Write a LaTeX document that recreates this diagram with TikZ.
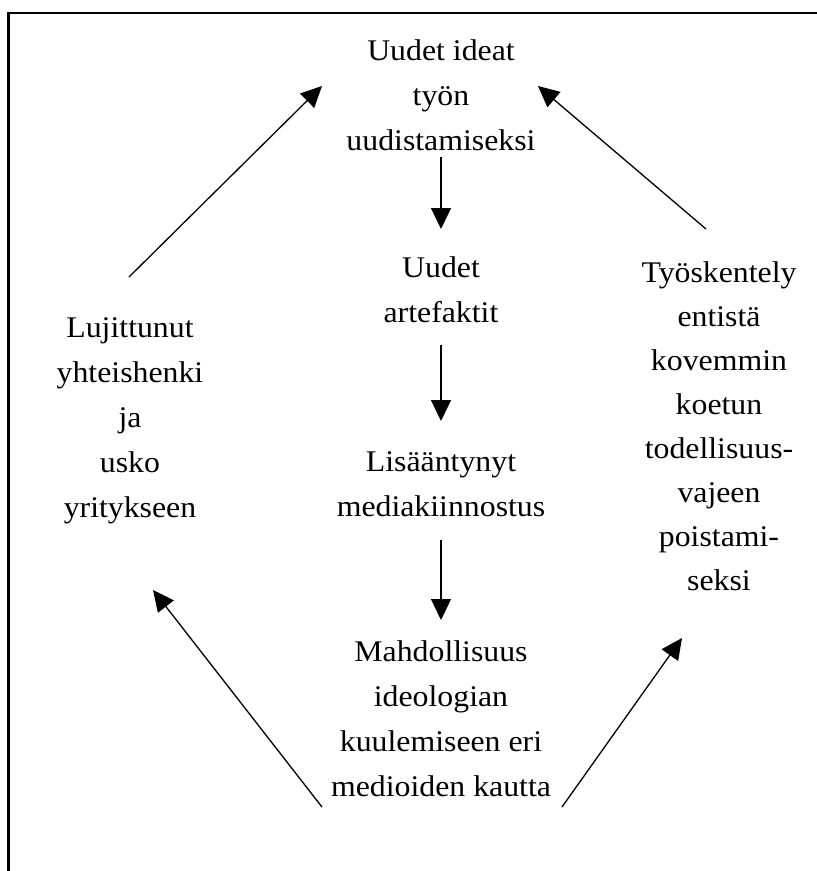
\documentclass[tikz,border=0pt]{standalone}
\usepackage{fontspec}
\setmainfont{Liberation Serif}[FakeStretch=1.06]
\usepackage{tikz}
\usetikzlibrary{arrows.meta,calc}

\tikzset{
  box/.style={align=center, inner sep=0pt, anchor=base,
              font=\fontsize{30}{45}\selectfont},
  arr/.style={-{Triangle[length=21pt,width=20pt]}, line width=1.3pt}
}

\begin{document}
\begin{tikzpicture}[x=1pt, y=-1pt]
        \useasboundingbox (0,0) rectangle (817,871);
        \draw[line width=2.6pt] (8.7,871) -- (8.7,13) -- (817,13);

        % base = baseline of the last line
        \node[box](ideat) at (441, 150) {Uudet ideat\\työn\\uudistamiseksi};
        \node[box](artef) at (441, 322) {Uudet\\artefaktit};
        \node[box](media) at (441, 516) {Lisääntynyt\\mediakiinnostus};
        \node[box](mahd)  at (441, 796) {Mahdollisuus\\ideologian\\kuulemiseen eri\\medioiden kautta};
        \node[box](lujit) at (130, 517) {Lujittunut\\yhteishenki\\ja\\usko\\yritykseen};
        \node[box, font=\fontsize{30}{44}\selectfont](tyosk) at (719, 590)
             {Työskentely\\entistä\\kovemmin\\koetun\\todellisuus-\\vajeen\\poistami-\\seksi};

        \draw[arr] ($(ideat.base)+(0,7)$) -- ($(artef.base)+(0,-93)$);
        \draw[arr] ($(artef.base)+(0,23)$) -- ($(media.base)+(0,-95)$);
        \draw[arr] ($(media.base)+(0,24)$) -- ($(mahd.base)+(0,-176)$);

        \draw[arr] ($(lujit.base)+(-1,-240)$) -- ($(ideat.base)+(-119,-64)$);
        \draw[arr] ($(tyosk.base)+(-13,-361)$) -- ($(ideat.base)+(97,-64)$);
        \draw[arr] ($(mahd.base)+(-119,11)$) -- ($(lujit.base)+(23,73)$);
        \draw[arr] ($(mahd.base)+(121,11)$) -- ($(tyosk.base)+(-37,48)$);

      \end{tikzpicture}
\end{document}
